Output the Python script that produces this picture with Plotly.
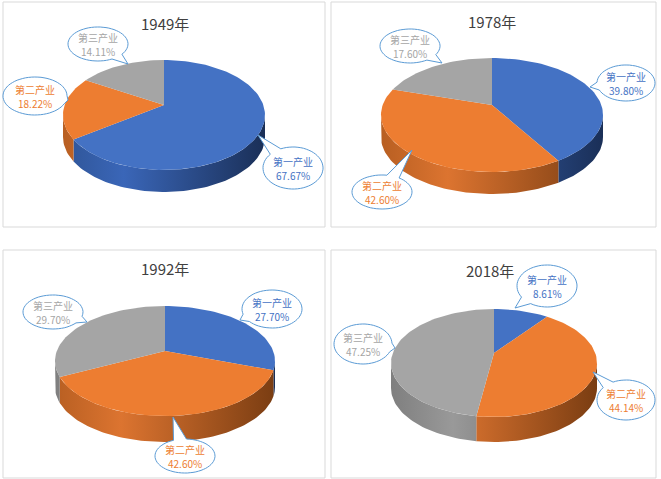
import math
import plotly.graph_objects as go

# 三次产业占GDP比重 (%)
years = ["1949年", "1978年", "1992年", "2018年"]
industries = ["第一产业", "第二产业", "第三产业"]
share_1949 = [67.67, 18.22, 14.11]
share_1978 = [39.80, 42.60, 17.60]
share_1992 = [27.70, 42.60, 29.70]
share_2018 = [8.61, 44.14, 47.25]
shares = [share_1949, share_1978, share_1992, share_2018]

top_colors = ["#4472C4", "#ED7D31", "#A5A5A5"]
side_scales = [
    [[0, "#2F5597"], [0.3, "#3A66B8"], [1, "#1A2F57"]],
    [[0, "#B85F22"], [0.3, "#DC7430"], [1, "#7A3D12"]],
    [[0, "#7F7F7F"], [0.3, "#999999"], [1, "#595959"]],
]
label_colors = ["#4472C4", "#ED7D31", "#A5A5A5"]

# pie placement (pixels): cx, cy, rx, ry, depth
pies = [
    (164, 115, 101, 55, 22),
    (492, 115, 111, 57, 22),
    (165, 361, 110, 55, 26),
    (494, 363, 103, 54, 25),
]
titles_xy = [(165, 23), (492, 21), (165, 268), (490, 270)]
panels = [(3, 2, 325, 227), (331, 2, 656, 227), (3, 250, 325, 478), (331, 250, 656, 478)]

# callout bubbles: (cx, cy, rx, ry, tip_x, tip_y) per industry
bubbles = [
    [(293, 168, 30, 21, 258, 135), (35, 96, 32, 19, 68, 100), (98, 44, 30, 17, 128, 64)],
    [(626, 83, 29, 18, 590, 87), (382, 192, 30, 17, 412, 150), (410, 46, 30, 17, 442, 63)],
    [(272, 309, 30, 19, 240, 320), (185, 456, 30, 17, 173, 417), (53, 312, 30, 17, 87, 322)],
    [(547, 286, 30, 21, 515, 308), (626, 400, 29, 20, 593, 372), (363, 344, 29, 20, 395, 348)],
]

APEX_UP = 10


def arc(cx, cy, rx, ry, a, b, dy=0):
    n = max(int(abs(b - a) / 2), 2)
    xs, ys = [], []
    for i in range(n + 1):
        t = math.radians(a + (b - a) * i / n)
        xs.append(cx + rx * math.sin(t))
        ys.append(cy - ry * math.cos(t) + dy)
    return xs, ys


fig = go.Figure()

for p, vals in enumerate(shares):
    cx, cy, rx, ry, depth = pies[p]
    total = sum(vals)
    bounds = []
    acc = 0
    for v in vals:
        a = acc / total * 360
        acc += v
        bounds.append((a, acc / total * 360))

    # side walls (front half only)
    for k, (a, b) in enumerate(bounds):
        s, e = max(a, 90), min(b, 270)
        if e <= s:
            continue
        xt, yt = arc(cx, cy, rx, ry, s, e)
        xb, yb = arc(cx, cy, rx, ry, e, s, dy=depth)
        fig.add_trace(go.Scatter(
            x=xt + xb, y=yt + yb, fill="toself", mode="lines",
            line=dict(width=0), fillcolor=top_colors[k],
            fillgradient=dict(type="horizontal", colorscale=side_scales[k],
                              start=cx - rx, stop=cx + rx),
            hoverinfo="skip", showlegend=False))

    # top faces
    for k, (a, b) in enumerate(bounds):
        xs, ys = arc(cx, cy, rx, ry, a, b)
        fig.add_trace(go.Scatter(
            x=[cx] + xs + [cx], y=[cy - APEX_UP] + ys + [cy - APEX_UP],
            fill="toself", mode="lines", line=dict(width=0),
            fillcolor=top_colors[k], hoverinfo="skip", showlegend=False))


def bubble_path(bx, by, brx, bry, tx, ty, half=0.22):
    phi = math.atan2((ty - by) / bry, (tx - bx) / brx)
    n = 60
    pts = []
    for i in range(n + 1):
        t = phi + half + (2 * math.pi - 2 * half) * i / n
        pts.append((bx + brx * math.cos(t), by + bry * math.sin(t)))
    d = "M " + " L ".join(f"{x:.1f},{y:.1f}" for x, y in pts)
    return d + f" L {tx},{ty} Z"


shapes = []
annotations = []
for (x0, y0, x1, y1) in panels:
    shapes.append(dict(type="rect", xref="x", yref="y", x0=x0, y0=y0, x1=x1, y1=y1,
                       line=dict(color="#D9D9D9", width=1), layer="below"))

for p, vals in enumerate(shares):
    tx, ty = titles_xy[p]
    annotations.append(dict(x=tx, y=ty, xref="x", yref="y", text=years[p],
                            showarrow=False,
                            font=dict(size=15, color="#404040", family="Noto Sans CJK SC")))
    for k, v in enumerate(vals):
        bx, by, brx, bry, px, py = bubbles[p][k]
        shapes.append(dict(type="path", xref="x", yref="y",
                           path=bubble_path(bx, by, brx, bry, px, py),
                           fillcolor="white", line=dict(color="#5B9BD5", width=1)))
        lab_font = dict(size=10, color=label_colors[k], family="Noto Sans CJK SC")
        annotations.append(dict(x=bx, y=by - 7, xref="x", yref="y", text=industries[k],
                                showarrow=False, font=lab_font, borderpad=0))
        annotations.append(dict(x=bx, y=by + 7.5, xref="x", yref="y", text=f"{v:.2f}%",
                                showarrow=False, font=lab_font, borderpad=0))

fig.update_layout(
    width=661, height=479,
    margin=dict(l=0, r=0, t=0, b=0),
    paper_bgcolor="white", plot_bgcolor="white",
    xaxis=dict(range=[0, 661], visible=False, fixedrange=True),
    yaxis=dict(range=[479, 0], visible=False, fixedrange=True),
    shapes=shapes, annotations=annotations,
)

fig.write_html("out.html", config={"displayModeBar": False},
               post_script="document.body.style.margin='0';")
